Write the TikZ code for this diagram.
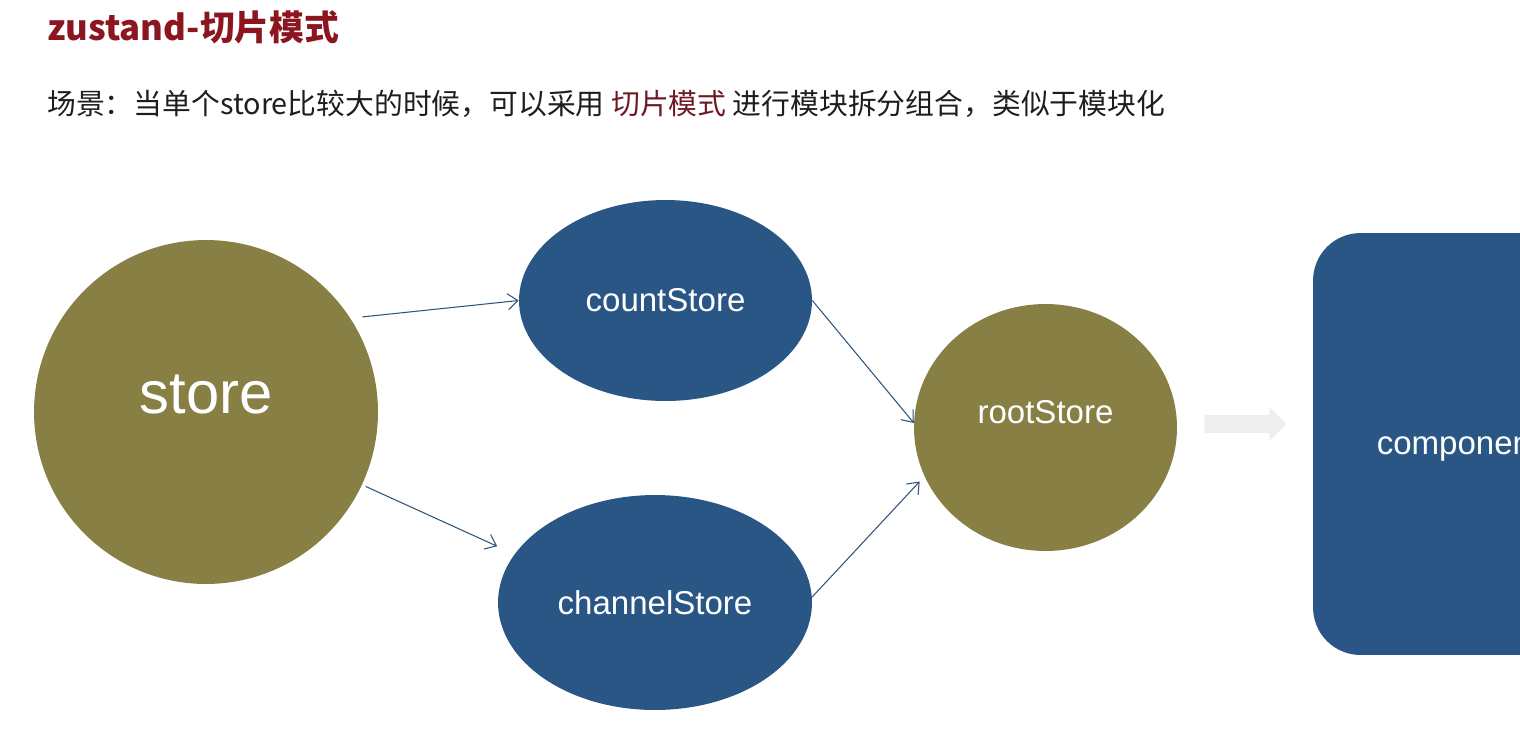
\documentclass[tikz,border=0pt]{standalone}
\usepackage{fontspec}
\setmainfont{Liberation Sans}
\newfontfamily\cjk{Noto Sans CJK SC}
\usepackage{tikz}
\usetikzlibrary{shapes.geometric, shapes.arrows, arrows.meta, positioning}
\definecolor{myolive}{RGB}{135,127,68}
\definecolor{myblue}{RGB}{41,86,133}
\definecolor{mylink}{RGB}{45,85,125}
\definecolor{mytitle}{RGB}{140,22,32}
\definecolor{mymark}{RGB}{110,25,35}
\definecolor{mytext}{RGB}{30,30,30}
\definecolor{myflow}{RGB}{238,238,238}
\tikzset{
  olivecircle/.style={circle, fill=myolive, inner sep=0pt, text=white},
  olivenode/.style={ellipse, fill=myolive, inner sep=0pt, text=white},
  blueellipse/.style={ellipse, fill=myblue, inner sep=0pt, text=white,
    font=\fontsize{18.8}{22}\selectfont},
  bluebox/.style={rectangle, fill=myblue, rounded corners=0.95cm, inner sep=0pt,
    text=white, font=\fontsize{18.8}{22}\selectfont},
  biglabel/.style={text=white, inner sep=0pt, font=\fontsize{34}{38}\selectfont},
  midlabel/.style={text=white, inner sep=0pt, font=\fontsize{18.8}{22}\selectfont},
  link/.style={-{Straight Barb[length=2mm,width=3.2mm]}, line width=0.6pt, color=mylink},
  flowarrow/.style={single arrow, fill=myflow, inner xsep=0pt, inner ysep=0.17cm,
    minimum height=1.64cm, single arrow head extend=0.16cm},
  titletext/.style={anchor=base west, inner sep=0pt, text=mytitle,
    font=\cjk\bfseries\fontsize{19.8}{23}\selectfont},
  bodytext/.style={anchor=base west, inner sep=0pt, text=mytext,
    font=\cjk\fontsize{16.4}{19}\selectfont}
}

\begin{document}
\begin{tikzpicture}[x=0.02cm, y=-0.02cm]
  \useasboundingbox (0,0) rectangle (1520,745);
  \clip (0,0) rectangle (1520,745);
  % Heading
  \node[titletext] (title) at (47,40) {zustand-切片模式};
  \node[bodytext] (intro) at (47,114) {场景：当单个store比较大的时候，可以采用~{\color{mymark}切片模式}~进行模块拆分组合，类似于模块化};
  % Stores
  \node[olivecircle, minimum size=6.88cm,
    label={[biglabel, yshift=0.36cm]center:store}] (store) at (206,412) {};
  \node[blueellipse, minimum width=5.86cm, minimum height=4.02cm] (countStore) at (665.5,300.5) {countStore};
  \node[blueellipse, minimum width=6.28cm, minimum height=4.3cm] (channelStore) at (655,602.5) {channelStore};
  \node[olivenode, minimum width=5.26cm, minimum height=4.94cm,
    label={[midlabel, yshift=0.31cm]center:rootStore}] (rootStore) at (1045.5,427.5) {};
  % Consumer
  \node[flowarrow] (flow) at (1241,424) {};
  \node[bluebox, minimum width=5.82cm, minimum height=8.44cm,
    label={[midlabel, yshift=-0.06cm]center:component}] (component) at (1458.5,444) {};
  % Links
  \draw[link, shorten <=0.24cm] (store.33) -- (countStore.west);
  \draw[link, shorten <=0.08cm, shorten >=0.38cm] (store.-25.5) -- (channelStore.161.8);
  \draw[link] (countStore.east) -- (rootStore.178);
  \draw[link, shorten >=0.14cm] (channelStore.2) -- (rootStore.202);
\end{tikzpicture}
\end{document}
